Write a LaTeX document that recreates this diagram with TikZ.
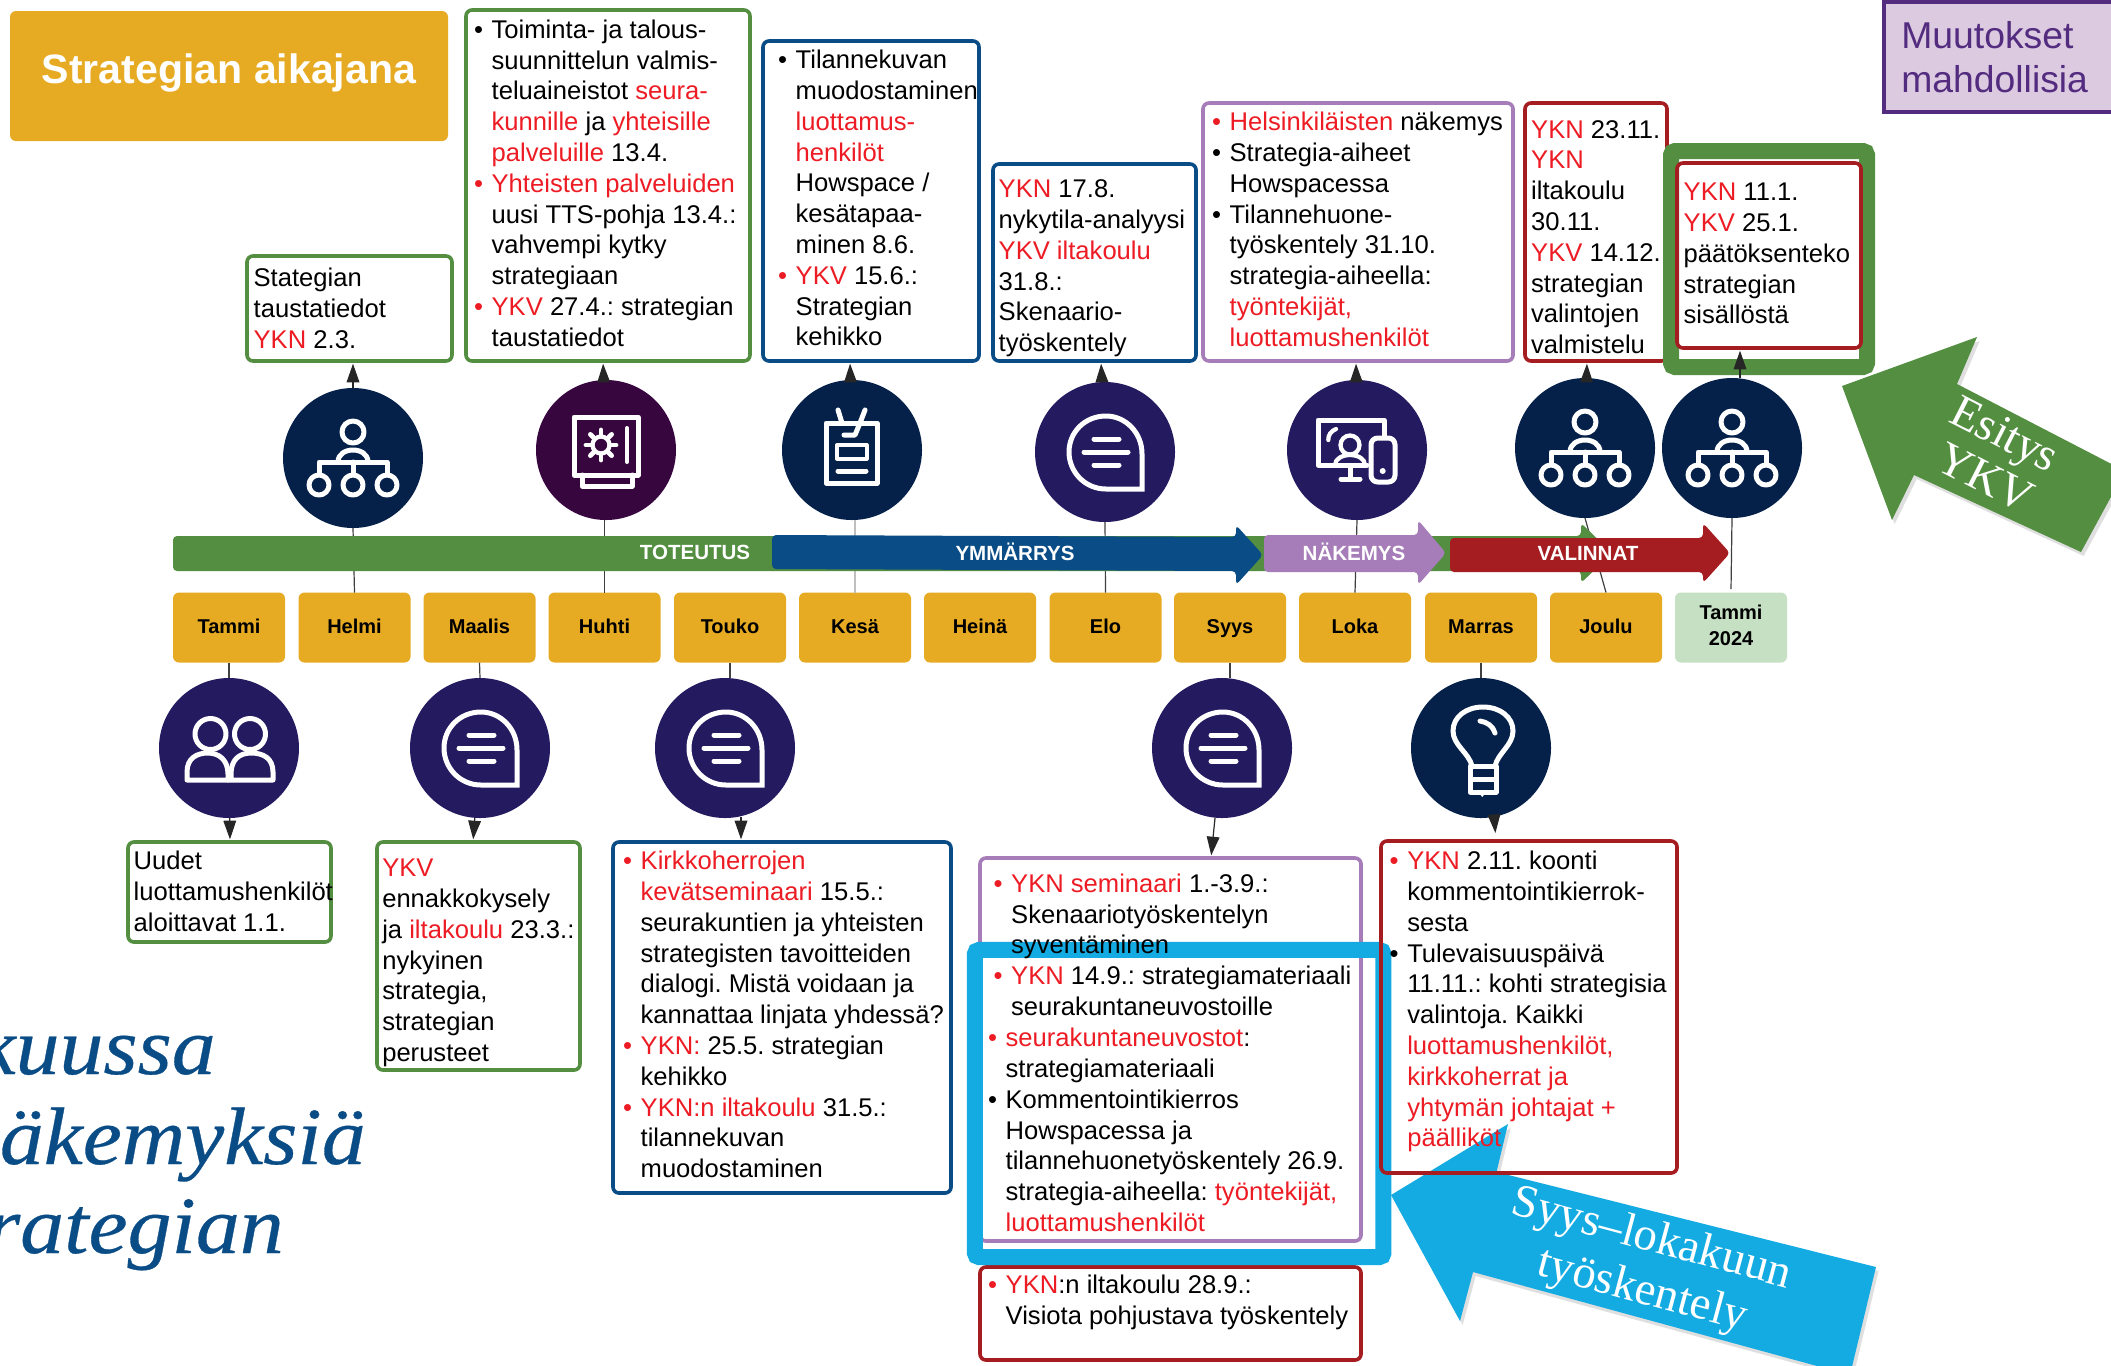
\documentclass[tikz,border=0pt]{standalone}
\usepackage{fontspec}
\setmainfont{Liberation Sans}
\newfontfamily\serf{Liberation Serif}
\newfontfamily\bigserif[FakeStretch=1.08,FakeBold=0.4]{Liberation Serif}
\usetikzlibrary{arrows.meta,shadows}
\definecolor{gold}{HTML}{E7AB23}
\definecolor{grn}{HTML}{548E41}
\definecolor{blu}{HTML}{0A4C86}
\definecolor{pur}{HTML}{A67DB8}
\definecolor{crim}{HTML}{A51D20}
\definecolor{ykred}{HTML}{ED1C24}
\definecolor{sky}{HTML}{13ABE2}
\definecolor{navy}{HTML}{05214A}
\definecolor{indi}{HTML}{241A60}
\definecolor{plum}{HTML}{38063F}
\definecolor{mint}{HTML}{C5E0C3}
\definecolor{lil}{HTML}{DBCAE0}
\definecolor{vio}{HTML}{532C80}
\newcommand\rd[1]{\textcolor{ykred}{#1}}
\newcommand\bu{\llap{\textbullet\kern6.5pt}}
\newcommand\rb{\llap{\textcolor{ykred}{\textbullet}\kern6.5pt}}
\newcommand\tb[4]{\node[txtb,anchor=north west] (#1) at ({#2-0.6},{#3-21.2}) {\strut #4};}
\newcommand\bx[6]{\node[boxn,draw=#6,minimum width={(#4-#2)*0.75},minimum height={(#5-#3)*0.75}] (#1) at ({(#2+#4)/2},{(#3+#5)/2}) {};}
\newcommand\mo[4]{\node[month,fill=#4,minimum width=84pt,minimum height=52.5pt] (#1) at (#2,627.5) {#3};}
\newcommand\ms{\rule[-4.7pt]{0pt}{19pt}}
\tikzset{
  txtb/.style={inner sep=0pt,align=left,font=\fontsize{19.2}{23.1}\selectfont},
  boxn/.style={inner sep=0pt,outer sep=0pt,line width=2.7pt,rounded corners=4.5pt,fill=none},
  month/.style={inner sep=0pt,outer sep=0pt,rounded corners=4.5pt,align=center,font=\fontsize{15}{19}\selectfont\bfseries},
  circn/.style={circle,inner sep=0pt,outer sep=0pt,minimum size=105pt},
  barlab/.style={inner sep=0pt,text=white,font=\fontsize{15.4}{18}\selectfont\bfseries},
  conn/.style={draw=black!75,line width=0.9pt},
  arr/.style={draw=black!85,line width=0.9pt,shorten >=2pt,-{Triangle[length=14pt,width=9.5pt]}},
  ic/.style={draw=white,line width=3.75pt,line cap=round,line join=round,fill=none},
  bigarrow/.style={drop shadow={opacity=.25,shadow xshift=2pt,shadow yshift=-3pt}},
  bigt/.style={inner sep=0pt,text=white,font=\fontsize{35}{40}\selectfont\serf},
  bigi/.style={inner sep=0pt,anchor=base east,text=blu,font=\fontsize{61}{66}\selectfont\bigserif\itshape},
  orgicon/.pic={
    \draw[ic] (0,-26) circle (11);
    \draw[ic] (-15,4) .. controls (-15,-12) and (15,-12) .. (15,4);
    \draw[ic] (-34,15) -- (-34,4) -- (34,4) -- (34,15);
    \draw[ic] (0,4) -- (0,15);
    \draw[ic] (-34,27) circle (10);
    \draw[ic] (0,27) circle (10);
    \draw[ic] (34,27) circle (10);
  },
  bubbleicon/.pic={
    \draw[ic,line join=miter] (37,37) -- (37,2) .. controls (37,-20) and (20,-36) .. (1,-36) .. controls (-20,-36) and (-36,-20) .. (-36,0) .. controls (-36,20) and (-20,37) .. (1,37) -- cycle;
    \draw[ic] (-11,-13) -- (14,-13);
    \draw[ic] (-21,0) -- (23,0);
    \draw[ic] (-11,13) -- (14,13);
  },
  gearicon/.pic={
    \draw[ic,line join=round] (-32,-33) rectangle (32,25);
    \draw[ic,line width=3.2pt] (-5,-5) circle (8.5);
    \foreach \a in {0,45,...,315}
      \draw[white,line width=3.6pt,line cap=round] ({-5+11*cos(\a)},{-5+11*sin(\a)}) -- ({-5+15*cos(\a)},{-5+15*sin(\a)});
    \draw[ic,line width=3pt] (21,-22) -- (21,12);
    \draw[ic] (-24,25) -- (-24,36) -- (26,36) -- (26,25);
  },
  badgeicon/.pic={
    \draw[ic] (-26,-27) rectangle (25,33);
    \draw[ic] (-14,-40) -- (-10,-27);
    \draw[ic] (13,-40) -- (8,-27) -- (3,-15) -- (-8,-15);
    \draw[ic,line width=3pt] (-15,-5) rectangle (14.5,8.5);
    \draw[ic] (-14,21) -- (14,21);
  },
  screenicon/.pic={
    \draw[ic] (27,-14) -- (27,-30) -- (-39,-30) -- (-39,15) -- (10,15);
    \draw[ic,line cap=butt] (-7,15) -- (-7,29);
    \draw[ic] (-16,29) -- (3,29);
    \draw[ic,line width=3.2pt] (-7,-5) circle (9.5);
    \draw[ic,line width=3.2pt] (-22,15) .. controls (-22,9) and (-15,5) .. (-7,5) .. controls (1,5) and (8,9) .. (8,15);
    \draw[ic,line width=3.2pt] (-28.7,-10) .. controls (-29,-15) and (-26,-19) .. (-21,-21);
    \draw[ic,fill=indi,rounded corners=5pt] (14,-12) rectangle (38,32);
    \fill[white] (25.7,21) circle (3);
  },
  peopleicon/.pic={
    \draw[ic] (-18.5,-14) circle (15.5);
    \draw[ic] (21,-14) circle (15.5);
    \draw[ic] (-1,32) -- (-42,32) -- (-42,24) .. controls (-42,10) and (-32,5) .. (-21,5) .. controls (-10,5) and (-1,12) .. (-1,26) -- (-1,32);
    \draw[ic] (-1,32) -- (44,32) -- (44,24) .. controls (44,10) and (34,5) .. (22,5) .. controls (10,5) and (2,12) .. (2,26) -- (2,32);
  },
  bulbicon/.pic={
    \draw[ic] (-9,18) .. controls (-12,5) and (-28,-3) .. (-28,-17) .. controls (-28,-31) and (-15,-41) .. (2,-41) .. controls (19,-41) and (32,-31) .. (32,-17) .. controls (32,-3) and (17,5) .. (14,18);
    \draw[ic] (-11,18) rectangle (15,44);
    \draw[ic,line cap=butt] (-11,31) -- (15,31);
    \fill[white] (-3,44) -- (5,44) -- (1.3,49) -- cycle;
    \draw[ic] (-1,-27) .. controls (6,-26) and (12,-22) .. (14,-15);
  }
}
\begin{document}
\frenchspacing
\begin{tikzpicture}[x=0.75pt,y=-0.75pt]
\useasboundingbox (0,0) rectangle (2111,1365);
\clip (0,0) rectangle (2111,1365);
\fill[white] (0,0) rectangle (2111,1365);

% big clipped italic text
\node[bigi] (bg1) at (216,1074) {kuussa};
\node[bigi] (bg2) at (366,1164) {äkemyksiä};
\node[bigi] (bg3) at (284,1253) {rategian};

% title
\node[fill=gold,rounded corners=4.5pt,inner sep=0pt,outer sep=0pt,minimum width=328.5pt,minimum height=97.5pt] (title) at (229,76) {};
\node[inner sep=0pt,text=white,font=\fontsize{30.8}{36}\selectfont\bfseries] (titlet) at (229,73) {Strategian aikajana};

% change note
\node[fill=lil,draw=vio,line width=3.2pt,inner sep=0pt,outer sep=0pt,minimum width=172pt,minimum height=83pt] (note) at (1999,57) {};
\node[inner sep=0pt,anchor=north west,align=left,text=vio,font=\fontsize{28}{33.5}\selectfont] (notet) at (1901,{40.5-24}) {\strut Muutokset\\mahdollisia};

% months
\mo{m1}{229}{\ms Tammi}{gold}
\mo{m2}{354.5}{\ms Helmi}{gold}
\mo{m3}{479.5}{\ms Maalis}{gold}
\mo{m4}{604.5}{\ms Huhti}{gold}
\mo{m5}{730}{\ms Touko}{gold}
\mo{m6}{855}{\ms Kesä}{gold}
\mo{m7}{980}{\ms Heinä}{gold}
\mo{m8}{1105.5}{\ms Elo}{gold}
\mo{m9}{1230}{\ms Syys}{gold}
\mo{m10}{1355}{\ms Loka}{gold}
\mo{m11}{1481}{\ms Marras}{gold}
\mo{m12}{1606}{\ms Joulu}{gold}
\mo{m13}{1731}{\strut Tammi\\\strut 2024}{mint}

% circles as named nodes
\node[circn,fill=navy] (c1) at (353,458) {};
\node[circn,fill=plum] (c2) at (606,450) {};
\node[circn,fill=navy] (c3) at (852,450) {};
\node[circn,fill=indi] (c4) at (1105,452) {};
\node[circn,fill=indi] (c5) at (1357,450) {};
\node[circn,fill=navy] (c6) at (1585,448) {};
\node[circn,fill=navy] (c7) at (1732,448) {};
\node[circn,fill=indi] (c8) at (229,748) {};
\node[circn,fill=indi] (c9) at (480,748) {};
\node[circn,fill=indi] (c10) at (725,748) {};
\node[circn,fill=indi] (c11) at (1222,748) {};
\node[circn,fill=navy] (c12) at (1481,748) {};

% month-circle lines
\draw[conn] (m2.north) -- (c1.south);
\draw[conn] (m4.north) -- (m4.north |- c2.south);
\draw[conn,draw=black!25] (m6.north) -- (m6.north |- c3.south);
\draw[conn] (m8.north) -- (c4.south);
\draw[conn] (m10.north) -- (c5.south);
\draw[conn] (m12.north) -- (c6.south);
\draw[conn] (1731,589) -- (c7.south);
\draw[conn] (m1.south) -- (c8.north);
\draw[conn] (m3.south) -- (c9.north);
\draw[conn] (m5.south) -- (m5.south |- c10.north);
\draw[conn] (m9.south) -- (m9.south |- c11.north);
\draw[conn] (m11.south) -- (c12.north);

% timeline arrows
\fill[grn,rounded corners=3pt] (173,536) -- (1581,536) -- (1581,523) -- (1612,553) -- (1581,583) -- (1581,571) -- (173,571) -- cycle;
\fill[blu,rounded corners=3pt] (772,535) -- (1236,537) -- (1236,525) -- (1263,555) -- (1236,585) -- (1236,571) -- (772,569) -- cycle;
\fill[pur,rounded corners=3pt] (1264,535) -- (1418,535) -- (1418,520) -- (1446,553) -- (1418,585) -- (1418,572) -- (1264,572) -- cycle;
\fill[crim,rounded corners=3pt] (1450,538) -- (1703,538) -- (1703,523) -- (1730,553) -- (1703,583) -- (1703,572) -- (1450,572) -- cycle;
\node[barlab] (l1) at (695,552) {TOTEUTUS};
\node[barlab] (l2) at (1015,552) {YMMÄRRYS};
\node[barlab] (l3) at (1354,552) {NÄKEMYS};
\node[barlab] (l4) at (1588,553) {VALINNAT};

% boxes
\bx{b1}{247}{256}{452}{361}{grn}
\bx{b2}{466}{10}{750}{361}{grn}
\bx{b3}{763}{41}{979}{361}{blu}
\bx{b4}{993}{164}{1196}{361}{blu}
\bx{b5}{1203}{103}{1513}{361}{pur}
\bx{b6}{1525}{103}{1667}{361}{crim}
\bx{b8}{128}{842}{331}{942}{grn}
\bx{b9}{377}{842}{580}{1070}{grn}
\bx{b10}{613}{842}{951}{1193}{blu}
\bx{b11}{980}{858}{1361}{1241}{pur}
\bx{b12}{980}{1267}{1361}{1360}{crim}

% frames
\node[draw=grn,line width=12pt,rounded corners=3pt,inner sep=0pt,outer sep=0pt,minimum width=147pt,minimum height=162pt] (fr1) at (1769,259) {};
\node[draw=sky,line width=12pt,rounded corners=3pt,inner sep=0pt,outer sep=0pt,minimum width=306.4pt,minimum height=230.3pt] (fr2) at (1179.2,1103.5) {};
\bx{b7}{1677}{163}{1861}{348}{crim}

% big arrows
\fill[sky,bigarrow] (1391,1195) -- (1508,1124) -- (1496.5,1172) -- (1876,1267) -- (1850,1375) -- (1473,1272) -- (1460,1321) -- cycle;
\fill[grn,bigarrow] (1842,386) -- (1977,337) -- (1957,384) -- (2125,471) -- (2081,552) -- (1914,475) -- (1892,520) -- cycle;
\node[bigt,rotate=-15] (sy1) at (1651,1240) {Syys–lokakuun};
\node[bigt,rotate=-15] (sy2) at (1642,1292) {työskentely};
\node[bigt,rotate=-27] (es1) at (2003,438) {Esitys};
\node[bigt,rotate=-27] (es2) at (1985,478) {YKV};

\bx{b13}{1381}{841}{1677}{1173}{crim}

% icons
\pic at (c1) {orgicon};
\pic at (c2) {gearicon};
\pic at (c3) {badgeicon};
\pic at (c4) {bubbleicon};
\pic at (c5) {screenicon};
\pic at (c6) {orgicon};
\pic at (c7) {orgicon};
\pic at (c8) {peopleicon};
\pic at (c9) {bubbleicon};
\pic at (c10) {bubbleicon};
\pic at (c11) {bubbleicon};
\pic at (c12) {bulbicon};

% circle-box arrows
\draw[arr] (c1) -- (b1.south -| 353,0);
\draw[arr] (c2) -- (b2.south -| 603,0);
\draw[arr] (c3) -- (b3.south -| 850,0);
\draw[arr] (c4) -- (b4.south -| 1101,0);
\draw[arr] (c5) -- (b5.south -| 1356,0);
\draw[arr] (c6) -- (b6.south -| 1587,0);
\draw[arr] (1740,378) -- (b7.south -| 1740,0);
\draw[arr] (c8) -- (b8.north -| 230,0);
\draw[arr] (c9) -- (b9.north -| 473,0);
\draw[arr] (741,817) -- (b10.north -| 741,0);
\draw[arr] (c11) -- (b11.north -| 1211,0);
\draw[arr,shorten >=6pt] (1494,815) -- (b13.north -| 1496,0);

% texts
\tb{t1}{254}{286}{Stategian\\taustatiedot\\\rd{YKN} 2.3.}
\tb{t2}{492}{37.7}{\bu Toiminta- ja talous-\\suunnittelun valmis-\\teluaineistot \rd{seura-}\\\rd{kunnille} ja \rd{yhteisille}\\\rd{palveluille} 13.4.\\\rb\rd{Yhteisten palveluiden}\\uusi TTS-pohja 13.4.:\\vahvempi kytky\\strategiaan\\\rb\rd{YKV} 27.4.: strategian\\taustatiedot}
\tb{t3}{796}{68}{\bu Tilannekuvan\\muodostaminen\\\rd{luottamus-}\\\rd{henkilöt}\\Howspace /\\kesätapaa-\\minen 8.6.\\\rb\rd{YKV} 15.6.:\\Strategian\\kehikko}
\tb{t4}{999}{197}{\rd{YKN} 17.8.\\nykytila-analyysi\\\rd{YKV iltakoulu}\\31.8.:\\Skenaario-\\työskentely}
\tb{t5}{1230}{130}{\rb\rd{Helsinkiläisten} näkemys\\\bu Strategia-aiheet\\Howspacessa\\\bu Tilannehuone-\\työskentely 31.10.\\strategia-aiheella:\\\rd{työntekijät,}\\\rd{luottamushenkilöt}}
\tb{t6}{1531.5}{137.5}{\rd{YKN} 23.11.\\\rd{YKN}\\iltakoulu\\30.11.\\\rd{YKV} 14.12.\\strategian\\valintojen\\valmistelu}
\tb{t7}{1684}{200}{\rd{YKN} 11.1.\\\rd{YKV} 25.1.\\päätöksenteko\\strategian\\sisällöstä}
\tb{t8}{134}{869}{Uudet\\luottamushenkilöt\\aloittavat 1.1.}
\tb{t9}{382.6}{876}{\rd{YKV}\\ennakkokysely\\ja \rd{iltakoulu} 23.3.:\\nykyinen\\strategia,\\strategian\\perusteet}
\tb{t10}{641}{869}{\rb\rd{Kirkkoherrojen}\\\rd{kevätseminaari} 15.5.:\\seurakuntien ja yhteisten\\strategisten tavoitteiden\\dialogi. Mistä voidaan ja\\kannattaa linjata yhdessä?\\\rb\rd{YKN:} 25.5. strategian\\kehikko\\\rb\rd{YKN:n iltakoulu} 31.5.:\\tilannekuvan\\muodostaminen}
\tb{t11a}{1011.5}{891.6}{\rb\rd{YKN seminaari} 1.-3.9.:\\Skenaariotyöskentelyn\\syventäminen\\\rb\rd{YKN} 14.9.: strategiamateriaali\\seurakuntaneuvostoille}
\tb{t11b}{1006}{1046}{\rb\rd{seurakuntaneuvostot}:\\strategiamateriaali\\\bu Kommentointikierros\\Howspacessa ja\\tilannehuonetyöskentely 26.9.\\strategia-aiheella: \rd{työntekijät,}\\\rd{luottamushenkilöt}}
\tb{t12}{1006}{1293}{\rb\rd{YKN}:n iltakoulu 28.9.:\\Visiota pohjustava työskentely}
\tb{t13}{1407.6}{869}{\rb\rd{YKN} 2.11. koonti\\kommentointikierrok-\\sesta\\\bu Tulevaisuuspäivä\\11.11.: kohti strategisia\\valintoja. Kaikki\\\rd{luottamushenkilöt,}\\\rd{kirkkoherrat ja}\\\rd{yhtymän johtajat +}\\\rd{päälliköt}}
\end{tikzpicture}
\end{document}
